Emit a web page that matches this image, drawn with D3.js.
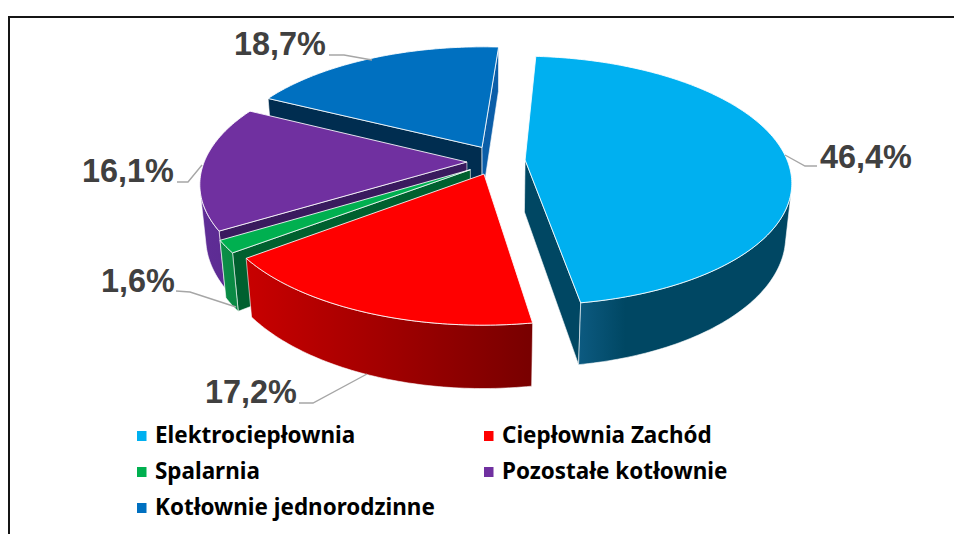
<!DOCTYPE html>
<html><head><meta charset="utf-8">
<script src="https://cdn.jsdelivr.net/npm/d3@7"></script>
<style>html,body{margin:0;padding:0;background:#fff}svg{display:block}</style>
</head><body><svg id="c" width="954" height="534"></svg>
<script>
const categories = ["Elektrociepłownia","Ciepłownia Zachód","Spalarnia","Pozostałe kotłownie","Kotłownie jednorodzinne"];
const values = [46.4,17.2,1.6,16.1,18.7];
const labels = ["46,4%","17,2%","1,6%","16,1%","18,7%"];
const topColors = ["#00b0f0","#ff0000","#00b050","#7030a0","#0070c0"];
const rimLight = ["#0c5a80","#c80000","#0c8f48","#5f2d96","#0a5ea8"];
const rimDark = ["#004763","#780000","#0a8a44","#5a2a90","#0a5ea8"];
const wallColors = ["#004763","#990000","#00602f","#3a1a5e","#002d50"];
const endWallColors = ["#004763","#990000","#00602f","#3a1a5e","#0b5ea8"];
// explosion of each slice in the pie's own plane (fractions of radius)
const explodeX = [0.134,-0.0225,-0.074,-0.088,-0.031];
const explodeY = [0,0.114,0.079,0.0165,-0.106];
const drawOrder = [4,3,2,1,0];
// label layout: text x, baseline, leader polyline
const labelX = [820,205,101,82,234];
const labelY = [168,403,292,182,55];
const leaders = [
 [[817,166],[805,166],[785,155]],
 [[299,403],[313,403],[367,374]],
 [[176,291],[190,292],[236,307]],
 [[177,182],[188,182],[202,165]],
 [[329,55],[344,55],[372,60]]
];
const legendCol=[137,484], legendRow=[436,472,508];

const svg=d3.select("#c");
const defs=svg.append("defs");
const persp=0.165, depth=0.02, thick=53;
const sx=d3.scaleLinear().domain([-1,1]).range([490-262,490+262]);
const sy=d3.scaleLinear().domain([-1,1]).range([160-121,160+121]);
const project=(X,Y,Z)=>{
  const w0=1-persp*Y, w=w0+depth*Z;
  return [490+(sx(X)-490)/w, 160+(sy(Y)-160)/w0+thick*Z/w];
};
const pie=d3.pie().sort(null).startAngle(4*Math.PI/180).endAngle(364*Math.PI/180);
const arcs=pie(values);
const line=d3.line();
const cross=(a,b,p)=>(b[0]-a[0])*(p[1]-a[1])-(b[1]-a[1])*(p[0]-a[0]);

// frame
svg.append("path").attr("d","M9,534V17H954").attr("fill","none").attr("stroke","#151515").attr("stroke-width",2);

const g=svg.append("g");
drawOrder.forEach(i=>{
  const a=arcs[i], ox=explodeX[i], oy=explodeY[i];
  const pt=(ang,Z)=>project(Math.sin(ang)+ox,-Math.cos(ang)+oy,Z);
  const C0=project(ox,oy,0), C1=project(ox,oy,1);
  const n=Math.max(8,Math.round((a.endAngle-a.startAngle)*60));
  const angs=d3.range(n+1).map(k=>a.startAngle+(a.endAngle-a.startAngle)*k/n);
  const mid=pt((a.startAngle+a.endAngle)/2,0);
  const down=[C0[0],C1[1]];
  const gr=defs.append("linearGradient").attr("id","rim"+i).attr("gradientUnits","userSpaceOnUse");
  const xs=angs.map(t=>pt(t,0)[0]);
  gr.attr("x1",d3.min(xs)).attr("x2",d3.max(xs)).attr("y1",0).attr("y2",0);
  gr.append("stop").attr("offset",i===0?"0.17":"0").attr("stop-color",rimLight[i]);
  gr.append("stop").attr("offset",i===0?"0.35":"1").attr("stop-color",rimDark[i]);
  // radial walls
  [[a.startAngle,wallColors[i]],[a.endAngle,endWallColors[i]]].forEach(([ang,col])=>{
    const E=pt(ang,0);
    if(cross(C0,E,down)*cross(C0,E,mid)<0){
      g.append("path").attr("d",line([C0,E,pt(ang,1),C1])+"Z").attr("fill",col)
       .attr("stroke","#fff").attr("stroke-opacity",0.75).attr("stroke-width",0.8).attr("stroke-linejoin","round");
    }
  });
  // outer rim wall: only the segments that face the viewer
  let run=[];
  const flush=()=>{
    if(run.length>1){
      const poly=run.map(t=>pt(t,0)).concat(run.slice().reverse().map(t=>pt(t,1)));
      g.append("path").attr("d",line(poly)+"Z").attr("fill",`url(#rim${i})`)
       .attr("stroke","#fff").attr("stroke-opacity",0.75).attr("stroke-width",0.8).attr("stroke-linejoin","round");
    }
    run=[];
  };
  for(let k=0;k<n;k++){
    const T0=pt(angs[k],0),T1=pt(angs[k+1],0),B0=pt(angs[k],1);
    const vis=cross(T0,T1,B0)*cross(T0,T1,C0)<0;
    if(vis){ if(!run.length) run.push(angs[k]); run.push(angs[k+1]); }
    else flush();
  }
  flush();
  // top face
  const topPts=[C0].concat(angs.map(t=>pt(t,0)));
  g.append("path").attr("d",line(topPts)+"Z").attr("fill",topColors[i])
   .attr("stroke","#fff").attr("stroke-opacity",0.85).attr("stroke-width",1).attr("stroke-linejoin","round");
});

// leaders and labels
svg.append("g").selectAll("path").data(leaders).join("path")
 .attr("d",d=>line(d)).attr("fill","none").attr("stroke","#a6a6a6").attr("stroke-width",1.4);
svg.append("g").selectAll("text").data(labels).join("text")
 .attr("x",(d,i)=>labelX[i]).attr("y",(d,i)=>labelY[i]).text(d=>d)
 .attr("font-family","'Liberation Sans',Arial,sans-serif").attr("font-weight","bold")
 .attr("font-size",32.4).attr("fill","#404040");

// legend
const leg=svg.append("g").selectAll("g").data(categories).join("g")
 .attr("transform",(d,i)=>`translate(${legendCol[i%2]},${legendRow[Math.floor(i/2)]})`);
leg.append("rect").attr("x",0).attr("y",-5).attr("width",9.5).attr("height",10).attr("fill",(d,i)=>topColors[i]);
leg.append("text").attr("x",18).attr("y",7).text(d=>d)
 .attr("font-family","'Noto Sans',sans-serif").attr("font-weight","bold").attr("font-size",22.45).attr("fill","#000");
</script></body></html>
